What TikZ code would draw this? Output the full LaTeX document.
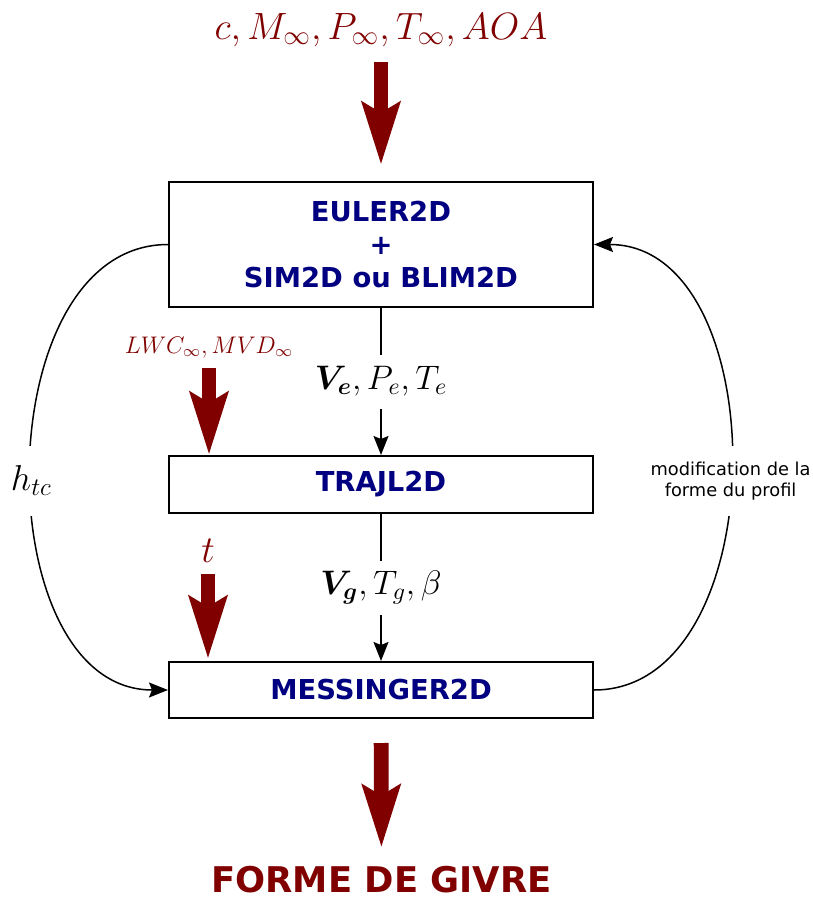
\RequirePackage{fix-cm}
\documentclass[tikz,border=0pt]{standalone}
\usepackage{amsmath}
\usepackage{bm}
\usepackage{fontspec}
\usetikzlibrary{arrows.meta, positioning}
\newfontfamily\dejavu{DejaVu Sans}
\definecolor{rouge}{RGB}{128,0,0}
\definecolor{marine}{RGB}{0,0,128}

\begin{document}
\begin{tikzpicture}[
    x=0.5pt, y=-0.5pt,
    box/.style={draw, line width=1pt, minimum width=212pt, inner sep=0pt, align=center,
                text=marine, font=\dejavu\bfseries\fontsize{13.7}{16.5}\selectfont},
    flux/.style={rouge, line width=7.4pt, -{Stealth[length=31pt, width=18.5pt, inset=5pt]}},
    fleche/.style={line width=0.75pt, -{Stealth[length=9.5pt, width=7.5pt, inset=1.5pt]}},
    etiq/.style={fill=white, inner sep=0pt, minimum height=27pt}
]
    \useasboundingbox (0,0) rectangle (813,900);

    % les trois codes, empiles du haut vers le bas
    \node[box, minimum height=62.5pt] (euler)     at (381,244.5) {EULER2D\\+\\SIM2D ou BLIM2D};
    \node[box, minimum height=28.5pt] (trajl)     at (381,484.5) {TRAJL2D};
    \node[box, minimum height=28pt]   (messinger) at (381,690)   {MESSINGER2D};

    % donnees d'entree et resultat
    \node[anchor=base, text=rouge, font=\fontsize{19}{23}\selectfont] (infini)  at (381,39)    {$c, M_\infty, P_\infty, T_\infty, AOA$};
    \node[anchor=base, text=rouge, font=\fontsize{12}{14}\selectfont] (gouttes) at (209,353)   {$LWC_\infty, MVD_\infty$};
    \node[anchor=base, text=rouge, font=\fontsize{19}{23}\selectfont] (temps)   at (208,562)   {$t$};
    \node[anchor=base, text=rouge, font=\dejavu\bfseries\fontsize{17.7}{21}\selectfont] (forme) at (381.5,892) {FORME DE GIVRE};

    % grosses fleches
    \draw[flux, shorten <=4.2pt, shorten >=8pt] (infini) -- (euler);
    \draw[flux, shorten <=1.5pt] (gouttes) -- (gouttes |- trajl.north);
    \draw[flux, shorten <=2.5pt, shorten >=1pt] (temps) -- (temps |- messinger.north);
    \draw[flux, shorten <=12pt, shorten >=5.5pt] (messinger) -- (forme);

    % echanges entre les codes
    \draw[fleche] (euler) -- node[etiq, font=\fontsize{17}{20}\selectfont] (ve) {$\bm{V_e}, P_e, T_e$} (trajl);
    \draw[fleche] (trajl) -- node[etiq, font=\fontsize{17}{20}\selectfont] (vg) {$\bm{V_g}, T_g, \beta$} (messinger);

    % boucles laterales
    \draw[fleche] (euler.west) to[out=180, in=180, looseness=1.05]
        node[pos=0.52, etiq, minimum height=35pt, font=\fontsize{18}{21}\selectfont] (htc) {$h_{tc}$} (messinger.west);
    \draw[fleche] (messinger.east) to[out=0, in=0, looseness=1.05]
        node[pos=0.48, etiq, minimum height=35pt, align=center, font=\dejavu\fontsize{8.9}{10.5}\selectfont] (modif)
        {modification de la\\forme du profil} (euler.east);
\end{tikzpicture}
\end{document}
